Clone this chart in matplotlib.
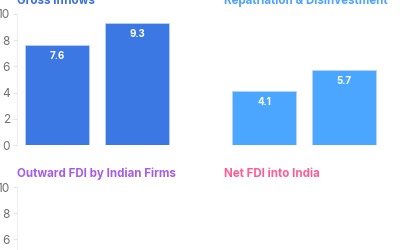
import matplotlib
matplotlib.use("Agg")
import matplotlib.pyplot as plt

titles = ["Gross Inflows", "Repatriation & Disinvestment",
          "Outward FDI by Indian Firms", "Net FDI into India"]
title_colors = ["#3b6fe0", "#4da3ff", "#a55ce6", "#ff5c93"]
categories = ["A", "B"]
gross = [7.6, 9.3]
repat = [4.1, 5.7]
bar_colors = ["#3b78e3", "#4aa6ff"]
yticks = [0, 2, 4, 6, 8, 10]

plt.rcParams['font.family'] = ['Inter', 'DejaVu Sans']

fig = plt.figure(figsize=(4, 2.5), dpi=100)
W, H = 400, 250

def add(left_px, top_px):
    return fig.add_axes([left_px / W, (H - top_px - 131) / H, 160 / W, 131 / H])

axes = [add(17, 14), add(224, 14), add(17, 187), add(224, 187)]
data = [gross, repat, None, None]

for i, ax in enumerate(axes):
    ax.set_xlim(-0.5, 1.5)
    ax.set_ylim(0, 10)
    ax.set_yticks(yticks)
    ax.set_xticks([])
    for s in ["top", "right", "bottom"]:
        ax.spines[s].set_visible(False)
    ax.spines["left"].set_color("#eeeeee")
    ax.tick_params(axis="y", colors="#e6e6e6", labelcolor="#707070",
                   labelsize=8.5, length=3, pad=2)
    if i % 2 == 1:
        ax.spines["left"].set_visible(False)
        ax.tick_params(axis="y", left=False, labelleft=False)
    ax.set_title(titles[i], loc="left", color=title_colors[i],
                 fontsize=8.3, fontweight="bold", pad=7)
    vals = data[i]
    if vals is not None:
        xs = list(range(len(categories)))
        ax.bar(xs, vals, width=0.8, color=bar_colors[i],
               edgecolor="#b9d2ff", linewidth=0.6)
        for x, v in zip(xs, vals):
            ax.annotate(f"{v}", (x, v), xytext=(0, -4), textcoords="offset points",
                        ha="center", va="top", color="white",
                        fontsize=7, fontweight="bold")

fig.savefig("out.png", dpi=100)
